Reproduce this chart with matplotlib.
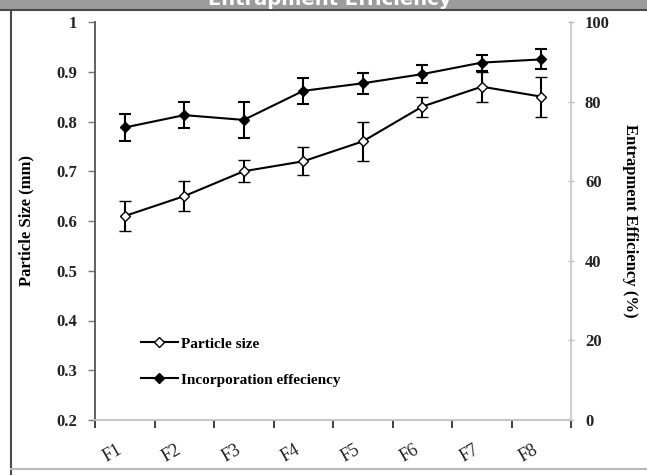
import matplotlib
matplotlib.use("Agg")
import matplotlib.pyplot as plt
from matplotlib.patches import Rectangle
from matplotlib.lines import Line2D

# formulations F1..F8
formulas = ["F1", "F2", "F3", "F4", "F5", "F6", "F7", "F8"]

# particle size (mm), left axis
size_mm = [0.61, 0.65, 0.70, 0.72, 0.76, 0.83, 0.87, 0.85]
size_err = [0.03, 0.03, 0.022, 0.028, 0.04, 0.02, 0.03, 0.04]

# entrapment efficiency (%), right axis
eff_pct = [73.5, 76.6, 75.4, 82.7, 84.6, 86.9, 89.8, 90.6]
eff_err = [3.4, 3.3, 4.6, 3.3, 2.6, 2.3, 2.0, 2.5]

left_ticks = [0.2, 0.3, 0.4, 0.5, 0.6, 0.7, 0.8, 0.9, 1.0]
left_tick_labels = ["0.2", "0.3", "0.4", "0.5", "0.6", "0.7", "0.8", "0.9", "1"]
right_ticks = [0, 20, 40, 60, 80, 100]

W, H = 647, 475
fig = plt.figure(figsize=(W / 100, H / 100), dpi=100)
fig.patch.set_facecolor("white")

serif = ["Liberation Serif", "DejaVu Serif"]

# header bar + frame lines
fig.patches.append(Rectangle((0, 1 - 9 / H), 1, 9 / H, transform=fig.transFigure,
                             facecolor="#9b9d9d", edgecolor="none", zorder=0))
fig.lines.append(Line2D([0, 1], [1 - 9.5 / H] * 2, transform=fig.transFigure,
                        color="#4a4a4a", lw=1.5))
fig.lines.append(Line2D([10.5 / W] * 2, [0, 1 - 9.5 / H], transform=fig.transFigure,
                        color="#4a4a4a", lw=1.5))
fig.lines.append(Line2D([11 / W, 1], [1 - 469 / H] * 2, transform=fig.transFigure,
                        color="#b8b8b8", lw=1.5))
fig.text(330 / W, 1 - 5 / H, "Entrapment Efficiency", color="white",
         fontsize=14, fontweight="bold", ha="center", va="baseline",
         family="DejaVu Sans")

ax = fig.add_axes([95 / W, 1 - 420 / H, 476 / W, 398 / H])
ax2 = ax.twinx()

x = list(range(len(formulas)))

e1 = ax.errorbar(x, size_mm, yerr=size_err, color="black", lw=1.5,
                 marker="D", markersize=5, markerfacecolor="white",
                 markeredgecolor="black", markeredgewidth=1,
                 capsize=4, elinewidth=1.5, capthick=1.5)
e2 = ax2.errorbar(x, eff_pct, yerr=eff_err, color="black", lw=1.5,
                  marker="D", markersize=5.5, markerfacecolor="black",
                  markeredgecolor="black",
                  capsize=4, elinewidth=1.5, capthick=1.5)

ax.set_xlim(-0.5, len(formulas) - 0.5)
ax.set_ylim(0.2, 1.0)
ax2.set_ylim(0, 100)

ax.set_yticks(left_ticks)
ax.set_yticklabels(left_tick_labels)
ax2.set_yticks(right_ticks)

ax.set_xticks([i - 0.5 for i in range(len(formulas) + 1)], minor=False)
ax.set_xticklabels([""] * (len(formulas) + 1))
ax.set_xticks(x, minor=True)
ax.set_xticklabels(formulas, minor=True, rotation=30, ha="right", va="top")
ax.tick_params(axis="x", which="minor", length=0, pad=15)
ax.tick_params(axis="x", which="major", length=6, width=1.3, color="#333333", direction="out")

for lab in ax.get_xticklabels(minor=True):
    lab.set_family(serif)
    lab.set_fontsize(13)
    lab.set_color("#222222")
for lab in ax.get_yticklabels() + ax2.get_yticklabels():
    lab.set_family(serif)
    lab.set_fontweight("bold")
    lab.set_fontsize(12)
    lab.set_color("#222222")

ax.tick_params(axis="y", length=5, width=1, color="#777777", pad=8)
ax2.tick_params(axis="y", length=4, width=1, color="#bbbbbb", pad=8, direction="inout")

for a in (ax, ax2):
    a.spines["top"].set_visible(False)
ax.spines["left"].set_color("#555555")
ax.spines["left"].set_linewidth(1.3)
ax.spines["bottom"].set_color("#c0c0c0")
ax.spines["bottom"].set_linewidth(1.3)
ax.spines["right"].set_visible(False)
ax2.spines["left"].set_visible(False)
ax2.spines["bottom"].set_visible(False)
ax2.spines["right"].set_color("#c8c8c8")
ax2.spines["right"].set_linewidth(1.3)

ax.set_ylabel("Particle Size (mm)", family=serif, fontweight="bold", fontsize=12)
ax.yaxis.set_label_coords(-0.128, 0.5)
ax2.set_ylabel("Entrapment Efficiency (%)", family=serif, fontweight="bold",
               fontsize=12, rotation=270, va="center")
ax2.yaxis.set_label_coords(1.124, 0.5)

# legend handles without the error bars
h1 = Line2D([], [], color="black", lw=1.5, marker="D", markersize=5,
            markerfacecolor="white", markeredgecolor="black")
h2 = Line2D([], [], color="black", lw=1.5, marker="D", markersize=5.5,
            markerfacecolor="black", markeredgecolor="black")
leg = ax2.legend([h1, h2], ["Particle size", "Incorporation effeciency"],
                 loc="upper left", bbox_to_anchor=(40 / 476, 1 - 309 / 398),
                 frameon=False, handlelength=2.4, handletextpad=0.2,
                 labelspacing=1.45, borderaxespad=0,
                 prop={"family": serif, "weight": "bold", "size": 11})

fig.savefig("out.png", dpi=100)
